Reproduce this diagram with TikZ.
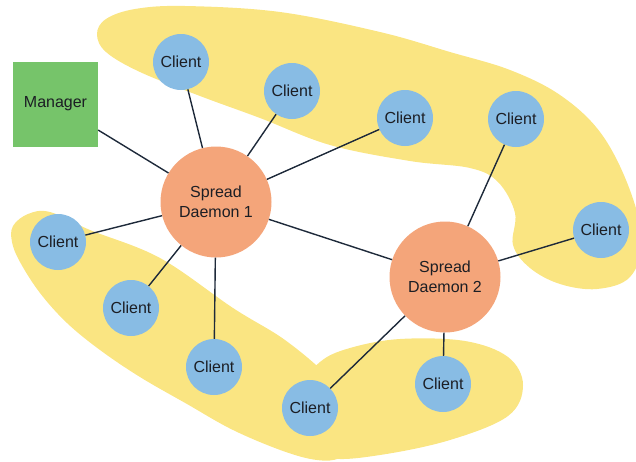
\documentclass[tikz,border=0pt]{standalone}
\usepackage{fontspec}
\setmainfont{Liberation Sans}
\definecolor{GroupYellow}{RGB}{250,229,130}
\definecolor{ClientBlue}{RGB}{136,188,228}
\definecolor{DaemonOrange}{RGB}{244,165,122}
\definecolor{ManagerGreen}{RGB}{118,196,106}
\definecolor{LinkNavy}{RGB}{30,42,58}
\definecolor{TextDark}{RGB}{28,30,36}
\tikzset{
	client/.style={circle, fill=ClientBlue, minimum size=56pt, inner sep=0pt, text=TextDark},
	daemon/.style={circle, fill=DaemonOrange, minimum size=111pt, inner sep=0pt, align=center, text=TextDark},
	manager/.style={rectangle, fill=ManagerGreen, minimum size=85pt, inner sep=0pt, text=TextDark},
	link/.style={LinkNavy, line width=1.4pt},
	group/.style={fill=GroupYellow}
}

\begin{document}
\begin{tikzpicture}[x=1pt,y=-1pt,font=\fontsize{16}{19.5}\selectfont]
				
				\useasboundingbox (0,0) rectangle (636,461);
				\clip (0,0) rectangle (636,461);
				
				% client groups
				\fill[group] plot[smooth cycle, tension=0.6] coordinates {
					(97,34) (106,19) (135,9) (185,6) (280,12) (380,32) (450,52)
					(510,70) (560,95) (600,132) (628,185) (642,240) (630,277)
					(597,289) (560,284) (530,268) (513,245) (515,213) (498,182)
					(470,168) (410,161) (330,145) (260,118) (200,96) (140,72) (106,52)};
				\fill[group] plot[smooth cycle, tension=0.6] coordinates {
					(13,226) (28,214) (50,212) (90,230) (160,258) (233,308)
					(285,340) (330,378) (358,412) (360,442) (340,458) (317,460)
					(283,451) (233,430) (187,404) (140,377) (100,350) (67,323)
					(40,293) (20,262) (12,242)};
				\fill[group] plot[smooth cycle, tension=0.6] coordinates {
					(300,390) (320,362) (350,348) (400,339) (465,341) (508,357)
					(523,385) (508,416) (450,440) (380,455) (330,458) (305,440)};
				
				% nodes
				\node[manager] (MG) at (55.5,104) {Manager};
				
				\node[daemon] (SD1) at (216,202) {Spread\\Daemon 1};
				\node[daemon] (SD2) at (445,277) {Spread\\Daemon 2};
				
				\node[client] (CL1) at (181,62) {Client};
				\node[client] (CL2) at (292,91) {Client};
				\node[client] (CL3) at (405,118) {Client};
				\node[client] (CL4) at (58,242) {Client};
				\node[client] (CL5) at (131,308) {Client};
				\node[client] (CL6) at (214,367) {Client};
				
				\node[client] (CL7) at (516,119) {Client};
				\node[client] (CL8) at (601,230) {Client};
				\node[client] (CL9) at (310,408) {Client};
				\node[client] (CL10) at (443,384) {Client};
				
				% links
				\draw[link] (MG) -- (SD1);
				\draw[link] (SD1) -- (SD2);
				\foreach \c in {CL1,CL2,CL3,CL4,CL5,CL6}
					\draw[link] (SD1) -- (\c);
				\foreach \c in {CL7,CL8,CL9,CL10}
					\draw[link] (SD2) -- (\c);
				
\end{tikzpicture}
\end{document}
